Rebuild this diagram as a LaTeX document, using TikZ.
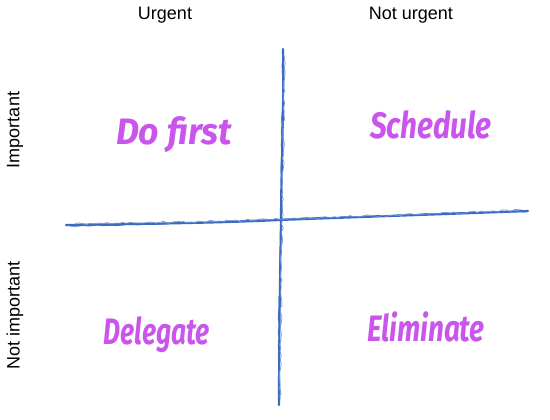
\documentclass[tikz,border=0pt]{standalone}
\usepackage{fontspec}
\usetikzlibrary{decorations.pathmorphing}
\setmainfont{Liberation Sans}
\newfontfamily\handfont{Fira Sans}
\definecolor{axisblue}{HTML}{3A6BC0}
\definecolor{axislight}{HTML}{6F97D8}
\definecolor{taskpurple}{HTML}{C955EC}
\begin{document}
\begin{tikzpicture}[x=0.75pt,y=-0.75pt,
  header/.style={font=\fontsize{13.5}{15}\selectfont, text=black, inner sep=0pt},
  quad/.style={font=\handfont\itshape\bfseries\fontsize{23}{25}\selectfont, text=taskpurple, inner sep=0pt, yscale=1.2},
  pen/.style={draw=axisblue, line width=1.6pt, line cap=round, line join=round},
  penthin/.style={draw=axisblue, line width=0.7pt, line cap=round, line join=round,
    decorate, decoration={random steps, segment length=5pt, amplitude=0.5pt}},
  penlight/.style={draw=axislight, line width=0.5pt, line cap=round, line join=round,
    decorate, decoration={random steps, segment length=3pt, amplitude=0.9pt}}]
\useasboundingbox (0,0) rectangle (550,420);
\fill[white] (0,0) rectangle (550,420);

% column and row headings
\node[header] (urgent) at (165,15) {Urgent};
\node[header] (noturgent) at (411,15) {Not urgent};
\node[header, rotate=90] (important) at (15,130) {Important};
\node[header, rotate=90] (notimportant) at (15,315) {Not important};

% hand-drawn vertical axis
\draw[pen] (283,49) .. controls (284,120) and (281,170) .. (281,220)
  .. controls (280,280) and (279,340) .. (279,405);
\draw[penthin] (282.5,52) .. controls (283.5,110) and (280.5,160) .. (281.5,205)
  .. controls (281,260) and (277.5,300) .. (279.5,400);
\draw[penlight] (284,55) .. controls (285,120) and (282,170) .. (282.5,220)
  .. controls (281,280) and (280.5,340) .. (280.5,398);
% hand-drawn horizontal axis
\draw[pen] (66,225) .. controls (140,224) and (220,223) .. (280,220)
  .. controls (360,217) and (450,214) .. (528,211);
\draw[penthin] (70,226) .. controls (150,224.5) and (230,222) .. (285,219)
  .. controls (380,216.5) and (460,212) .. (526,212);
\draw[penlight] (75,224) .. controls (150,223) and (230,221.5) .. (290,218.5)
  .. controls (380,215.5) and (460,213) .. (522,210);

% quadrant labels
\node[quad, xscale=1.16] (dofirst) at (174,135) {Do first};
\node[quad, xscale=0.97] (schedule) at (431,125) {Schedule};
\node[quad, xscale=0.86] (delegate) at (157,335) {Delegate};
\node[quad, xscale=0.91] (eliminate) at (426,327) {Eliminate};
\end{tikzpicture}
\end{document}
